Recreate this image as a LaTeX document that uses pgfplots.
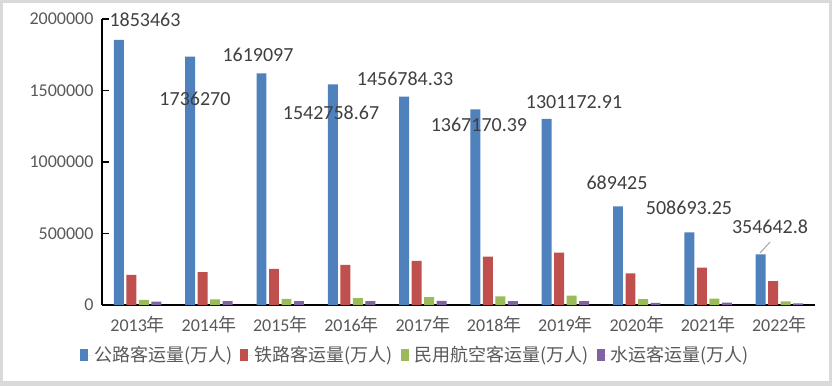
\documentclass[border=0pt]{standalone}
\usepackage{pgfplots}
\pgfplotsset{compat=1.18}
\usepackage{fontspec}
\setmainfont{Carlito}
\newfontfamily\cjk{Noto Sans CJK SC}
\definecolor{cblue}{HTML}{4F81BD}
\definecolor{cred}{HTML}{C0504D}
\definecolor{cgreen}{HTML}{9BBB59}
\definecolor{cpurple}{HTML}{8064A2}
\definecolor{tickgray}{HTML}{595959}
\definecolor{labgray}{HTML}{404040}
\definecolor{framegray}{HTML}{D9D9D9}
\begin{document}
\begin{tikzpicture}[x=1pt,y=1pt]
\fill[framegray] (0,0) rectangle (832,386);
\fill[white] (3,5) rectangle (829,383);
\useasboundingbox (0,0) rectangle (832,386);
\begin{axis}[
  at={(102pt,81pt)}, anchor=south west,
  scale only axis, width=713pt, height=286pt,
  xmin=-0.5, xmax=9.5, ymin=0, ymax=2000000,
  axis lines*=left,
  x axis line style={black, line width=2pt},
  y axis line style={black, line width=1.5pt},
  ybar, bar width=0.14,
  xtick={0,...,9},
  xticklabels={2013{\cjk 年},2014{\cjk 年},2015{\cjk 年},2016{\cjk 年},2017{\cjk 年},2018{\cjk 年},2019{\cjk 年},2020{\cjk 年},2021{\cjk 年},2022{\cjk 年}},
  x tick style={draw=none},
  ytick={0,500000,1000000,1500000,2000000},
  y tick style={black, line width=1.2pt},
  tick align=inside, major tick length=7pt,
  scaled y ticks=false,
  /pgf/number format/assume math mode=true,
  yticklabel style={/pgf/number format/fixed, /pgf/number format/1000 sep={}, xshift=-5pt},
  tick label style={font=\fontsize{18}{20}\selectfont, text=tickgray},
  xticklabel style={yshift=-8pt},
  legend columns=4,
  legend style={at={(0.4397,-0.175)}, anchor=center, draw=none, fill=none,
    font=\fontsize{18}{20}\selectfont, text=tickgray,
    /tikz/every even column/.append style={column sep=6pt}},
  legend image code/.code={\fill[#1] (0pt,-6pt) rectangle (8pt,6pt); \path (0pt,0pt) -- (12pt,0pt);},
  clip=false,
]
\addplot[fill=cblue, draw=none, bar shift=-0.263] coordinates {
(0,1853463) (1,1736270) (2,1619097) (3,1542758.67) (4,1456784.33) (5,1367170.39) (6,1301172.91) (7,689425) (8,508693.25) (9,354642.8)};
\addplot[fill=cred, draw=none, bar shift=-0.0877] coordinates {
(0,210597) (1,230460) (2,253484) (3,281405) (4,308379) (5,337495) (6,366002) (7,220350) (8,261171) (9,167296)};
\addplot[fill=cgreen, draw=none, bar shift=0.0877] coordinates {
(0,35397) (1,39195) (2,43618) (3,48796) (4,55156) (5,61174) (6,65993) (7,41778) (8,44056) (9,25171)};
\addplot[fill=cpurple, draw=none, bar shift=0.263] coordinates {
(0,23535) (1,26293) (2,27072) (3,27234) (4,28300) (5,27981) (6,27267) (7,14987) (8,16337) (9,11627)};
\legend{{\cjk 公路客运量(万人)},{\cjk 铁路客运量(万人)},{\cjk 民用航空客运量(万人)},{\cjk 水运客运量(万人)}}
\begin{scope}[every node/.style={font=\fontsize{20}{22}\selectfont, text=labgray, inner sep=0pt}]
\node at (axis cs:0.103,1993000) {1853463};
\node at (axis cs:0.804,1440559) {1736270};
\node at (axis cs:1.688,1748252) {1619097};
\node at (axis cs:2.712,1342657) {1542758.67};
\node at (axis cs:3.75,1580420) {1456784.33};
\node at (axis cs:4.787,1258741) {1367170.39};
\node at (axis cs:6.12,1419580) {1301172.91};
\node at (axis cs:6.723,853147) {689425};
\node at (axis cs:7.733,678322) {508693.25};
\node at (axis cs:8.869,545455) {354642.8};
\end{scope}
\draw[gray!70, line width=1pt] (axis cs:8.869,440559) -- (axis cs:8.729,363636);
\end{axis}
\end{tikzpicture}
\end{document}
